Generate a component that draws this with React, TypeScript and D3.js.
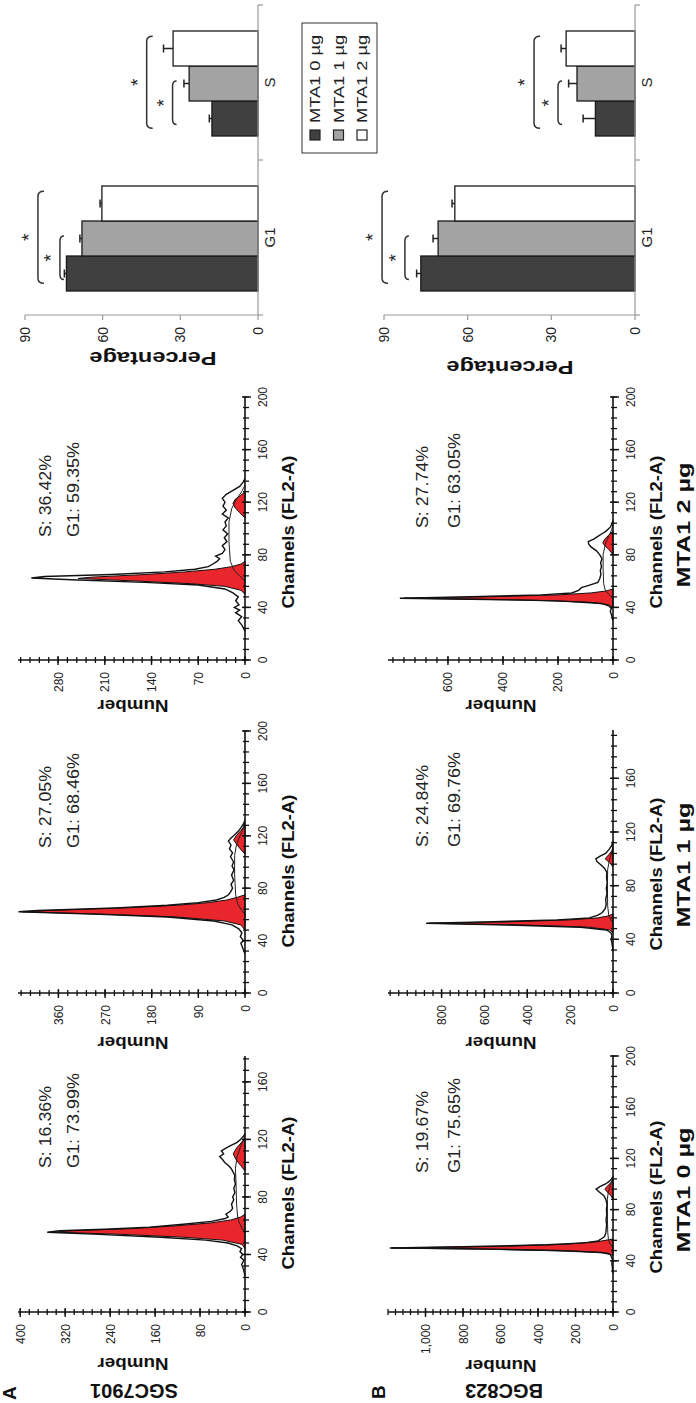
import React from 'react';
import * as d3 from 'd3';

type Pt = [number, number];

// ---------------- Histogram data: [channel, count] ----------------
// SGC7901
const sgc0Raw: Pt[] = [[25,0],[30,3],[33,6],[36,2],[38,8],[40,4],[42,9],[44,6],[46,14],[48,30],[50,70],[52,150],[54,260],[55.5,352],[56.5,330],[57.5,250],[59,170],[61,110],[63,60],[65,35],[66,30],[68,34],[70,26],[72,22],[75,24],[78,20],[80,22],[83,18],[86,20],[89,17],[92,19],[95,18],[98,22],[100,25],[102,30],[104,36],[106,40],[108,45],[110,38],[112,42],[114,34],[116,24],[118,14],[120,8],[122,3],[124,0]];
const sgc0G1: Pt[] = [[44,0],[47,5],[50,40],[52,110],[54,220],[55.5,340],[56.5,310],[58,200],[60,120],[62,60],[64,25],[66,8],[68,0]];
const sgc0G2: Pt[] = [[98,0],[102,8],[106,16],[110,21],[114,15],[118,6],[121,0]];
const sgc0S: Pt[] = [[55,0],[58,5],[62,10],[66,13],[75,15],[90,16],[100,17],[108,14],[115,8],[120,2],[123,0]];

const sgc1Raw: Pt[] = [[30,0],[34,4],[38,8],[40,3],[43,9],[46,6],[49,12],[52,25],[55,60],[58,150],[60,280],[62,437],[63,400],[65,250],[67,150],[69,90],[71,55],[73,40],[75,32],[77,28],[80,24],[83,27],[86,22],[90,26],[94,21],[97,25],[100,22],[104,28],[107,24],[110,30],[113,27],[116,32],[118,28],[120,22],[123,14],[126,8],[129,3],[132,0]];
const sgc1G1: Pt[] = [[48,0],[52,8],[55,40],[58,130],[60,260],[62,430],[63,380],[65,230],[67,130],[69,70],[71,35],[73,15],[75,0]];
const sgc1G2: Pt[] = [[106,0],[110,9],[114,17],[117,22],[120,17],[124,8],[128,0]];
const sgc1S: Pt[] = [[60,0],[64,8],[68,14],[75,18],[90,20],[105,20],[112,17],[118,12],[124,5],[130,0]];

const sgc2Raw: Pt[] = [[22,0],[26,4],[30,10],[33,5],[36,14],[38,8],[40,16],[42,9],[45,14],[48,10],[51,18],[54,30],[57,70],[59,150],[61,260],[62.4,320],[63.5,300],[65,200],[67,120],[69,75],[71,55],[73,48],[75,42],[77,38],[79,44],[81,34],[84,30],[87,34],[90,27],[93,31],[96,26],[99,33],[102,28],[105,30],[108,25],[111,34],[114,28],[117,33],[120,30],[123,34],[126,28],[129,18],[132,8],[135,3],[138,0]];
const sgc2G1: Pt[] = [[50,0],[53,6],[56,30],[58,80],[60,160],[62,250],[63,230],[65,150],[67,90],[69,45],[71,20],[73,6],[75,0]];
const sgc2G2: Pt[] = [[108,0],[112,8],[116,15],[119,18],[122,15],[125,7],[128,0]];
const sgc2S: Pt[] = [[60,0],[64,8],[68,16],[75,22],[90,24],[105,24],[115,20],[122,13],[128,5],[133,0]];

// BGC823
const bgc0Raw: Pt[] = [[30,0],[34,3],[38,6],[41,3],[43,8],[45,15],[46.5,60],[48,300],[49.3,700],[50,1190],[51,800],[52.5,350],[54,150],[55.5,80],[57,64],[59,45],[62,38],[65,36],[68,34],[72,37],[76,33],[80,35],[84,32],[88,38],[91,50],[94,75],[96,90],[98,70],[100,40],[102,20],[104,8],[106,0]];
const bgc0G1: Pt[] = [[44,0],[46,30],[47.5,200],[48.8,600],[50,1180],[51.3,600],[53,250],[55,80],[56.5,20],[57,0]];
const bgc0G2: Pt[] = [[88,0],[91,12],[94,32],[96,43],[98,32],[101,12],[104,0]];
const bgc0S: Pt[] = [[50,0],[53,15],[56,24],[62,28],[75,30],[88,30],[94,25],[99,14],[103,4],[106,0]];

const bgc1Raw: Pt[] = [[32,0],[36,4],[40,8],[43,5],[45,10],[47,30],[49,150],[50.5,450],[52,872],[53,600],[54.5,260],[56,110],[58,70],[60,50],[63,36],[66,32],[70,34],[74,28],[78,31],[82,27],[86,30],[90,29],[93,40],[96,60],[98,75],[100,80],[102,60],[104,35],[107,18],[110,6],[113,0]];
const bgc1G1: Pt[] = [[45,0],[47,15],[49,110],[50.5,380],[52,860],[53,500],[54.5,200],[56,70],[57.5,20],[59,0]];
const bgc1G2: Pt[] = [[94,0],[97,15],[100,37],[103,20],[106,5],[108,0]];
const bgc1S: Pt[] = [[52,0],[55,12],[58,20],[65,25],[80,26],[92,25],[98,18],[103,9],[108,2],[111,0]];

const bgc2Raw: Pt[] = [[30,0],[34,5],[37,10],[39,6],[41,14],[43,40],[45,200],[46,450],[47,775],[48,550],[49.5,260],[51,150],[53,125],[55,115],[57,85],[59,55],[62,48],[65,44],[68,46],[71,42],[74,45],[77,40],[80,48],[83,60],[86,80],[88,88],[90,90],[92,70],[94,55],[96,40],[98,25],[101,10],[104,3],[106,0]];
const bgc2G1: Pt[] = [[40,0],[42,15],[44,90],[45.5,300],[47,760],[48,480],[49.5,200],[51,80],[52.5,25],[54,0]];
const bgc2G2: Pt[] = [[80,0],[84,15],[87,30],[89,37],[92,30],[95,15],[98,0]];
const bgc2S: Pt[] = [[47,0],[50,15],[53,28],[58,34],[70,36],[80,36],[88,28],[94,16],[99,5],[103,0]];

// Percent annotations
const sgcSPct = ['16.36%', '27.05%', '36.42%'];
const sgcG1Pct = ['73.99%', '68.46%', '59.35%'];
const bgcSPct = ['19.67%', '24.84%', '27.74%'];
const bgcG1Pct = ['75.65%', '69.76%', '63.05%'];

// Axis ticks
const numTicksA0 = [0, 80, 160, 240, 320, 400];
const numTicksA1 = [0, 90, 180, 270, 360];
const numTicksA2 = [0, 70, 140, 210, 280];
const numTicksB0 = [0, 200, 400, 600, 800, 1000];
const numTicksB1 = [0, 200, 400, 600, 800];
const numTicksB2 = [0, 200, 400, 600];
const chanTicks200 = [0, 40, 80, 120, 160, 200];
const chanTicks160 = [0, 40, 80, 120, 160];

// ---------------- Bar chart data ----------------
const phases = ['G1', 'S'];
const doses = ['MTA1 0 µg', 'MTA1 1 µg', 'MTA1 2 µg'];
const sgcG1 = [74, 68, 60.3];
const sgcG1Err = [0.8, 0.8, 0.7];
const sgcS = [17.8, 26.6, 32.8];
const sgcSErr = [1, 2, 3.7];
const bgcG1 = [76.8, 70.6, 64.6];
const bgcG1Err = [1.5, 1.8, 1];
const bgcS = [14.2, 20.8, 24.7];
const bgcSErr = [4.4, 3, 1.8];
const pctTicks = [0, 30, 60, 90];
// significance brackets: [phase, toDoseIndex, level]
const sgcBrackets: [string, number, number][] = [['G1', 1, 76.5], ['G1', 2, 85], ['S', 1, 33], ['S', 2, 43]];
const bgcBrackets: [string, number, number][] = [['G1', 1, 82.5], ['G1', 2, 90.7], ['S', 1, 27.6], ['S', 2, 36.2]];

// ---------------- Styles ----------------
const FONT = "'Liberation Sans', Arial, Helvetica, sans-serif";
const RED = '#e8262b';
const BAR_FILLS = ['#404040', '#a3a3a3', '#ffffff'];

type HistLayout = {
  u0: number; u1: number; chMax: number; vBase: number; vTop: number; nMax: number;
  nMinor: number; textU: number; sV: number; g1V: number; chanU: number; chanV: number;
  numU: number; numV: number; doseU?: number; doseV?: number;
};

function Histogram(props: {
  L: HistLayout; raw: Pt[]; g1: Pt[]; g2: Pt[]; sfit: Pt[];
  nTicks: number[]; chTicks: number[]; sPct: string; g1Pct: string; dose?: string;
}) {
  const { L, raw, g1, g2, sfit, nTicks, chTicks, sPct, g1Pct, dose } = props;
  const x = d3.scaleLinear().domain([0, L.chMax]).range([L.u0, L.u1]);
  const y = d3.scaleLinear().domain([0, L.nMax]).range([L.vBase, L.vTop]);
  const area = d3.area<Pt>().x(d => x(d[0])).y0(y(0)).y1(d => y(d[1]));
  const line = d3.line<Pt>().x(d => x(d[0])).y(d => y(d[1]));
  const nMinor = d3.range(0, L.nMax + 0.001, L.nMinor);
  const chMinor = d3.range(0, L.chMax + 0.001, 8);
  const fmt = d3.format(',');
  return (
    <g>
      <path d={area(raw) || ''} fill="#fff" stroke="none" />
      <path d={area(g1) || ''} fill={RED} stroke="#111" strokeWidth={1} />
      <path d={area(g2) || ''} fill={RED} stroke="#111" strokeWidth={1} />
      <path d={line(sfit) || ''} fill="none" stroke="#222" strokeWidth={1} />
      <path d={line(raw) || ''} fill="none" stroke="#111" strokeWidth={1.4} />
      {/* axes */}
      <line x1={L.u0} x2={L.u0} y1={L.vBase} y2={L.vTop} stroke="#111" strokeWidth={1.6} />
      <line x1={L.u0} x2={L.u1} y1={L.vBase} y2={L.vBase} stroke="#111" strokeWidth={1.6} />
      {nMinor.map((t, i) => (
        <line key={'nm' + i} x1={L.u0 - 3} x2={L.u0 + 3} y1={y(t)} y2={y(t)} stroke="#111" strokeWidth={1.3} />
      ))}
      {nTicks.map((t, i) => (
        <g key={'nt' + i}>
          <line x1={L.u0 - 5} x2={L.u0 + 4} y1={y(t)} y2={y(t)} stroke="#111" strokeWidth={1.4} />
          <text x={L.u0 - 12} y={y(t) + 4.5} textAnchor="end" fontSize={12} fontFamily={FONT} fill="#222">{fmt(t)}</text>
        </g>
      ))}
      {chMinor.map((t, i) => (
        <line key={'cm' + i} x1={x(t)} x2={x(t)} y1={L.vBase - 2} y2={L.vBase + 4} stroke="#111" strokeWidth={1.3} />
      ))}
      {chTicks.map((t, i) => (
        <g key={'ct' + i}>
          <line x1={x(t)} x2={x(t)} y1={L.vBase - 3} y2={L.vBase + 6} stroke="#111" strokeWidth={1.4} />
          <text x={x(t)} y={L.vBase + 22} textAnchor="middle" fontSize={12} fontFamily={FONT} fill="#222">{t}</text>
        </g>
      ))}
      <text x={L.textU} y={L.sV} fontSize={17} fontFamily={FONT} fill="#222" textLength={82} lengthAdjust="spacingAndGlyphs">{'S: ' + sPct}</text>
      <text x={L.textU} y={L.g1V} fontSize={17} fontFamily={FONT} fill="#222" textLength={95} lengthAdjust="spacingAndGlyphs">{'G1: ' + g1Pct}</text>
      <text x={L.chanU} y={L.chanV} textAnchor="middle" fontSize={16} fontWeight="bold" fontFamily={FONT} fill="#111" textLength={153} lengthAdjust="spacingAndGlyphs">Channels (FL2-A)</text>
      <text transform={`translate(${L.numU},${L.numV}) rotate(-90)`} textAnchor="middle" fontSize={16} fontWeight="bold" fontFamily={FONT} fill="#111" textLength={71} lengthAdjust="spacingAndGlyphs">Number</text>
      {dose && L.doseU !== undefined ? (
        <text x={L.doseU} y={L.doseV} textAnchor="middle" fontSize={18} fontWeight="bold" fontFamily={FONT} fill="#111" textLength={125} lengthAdjust="spacingAndGlyphs">{dose}</text>
      ) : null}
    </g>
  );
}

type BarLayout = { vZero: number; vTop: number; pctU: number; pctV: number };

function BarChart(props: {
  L: BarLayout; g1: number[]; g1Err: number[]; s: number[]; sErr: number[]; brackets: [string, number, number][];
}) {
  const { L, g1, g1Err, s, sErr, brackets } = props;
  const uStart = 1088, uEnd = 1398;
  const xb = d3.scaleBand<string>().domain(phases).range([uStart, uEnd]);
  const xs = d3.scaleBand<string>().domain(doses).range([24, 129]);
  const y = d3.scaleLinear().domain([0, 90]).range([L.vZero, L.vTop]);
  const vals: Record<string, number[]> = { G1: g1, S: s };
  const errs: Record<string, number[]> = { G1: g1Err, S: sErr };
  const bw = xs.bandwidth();
  return (
    <g>
      <line x1={uStart} x2={uStart} y1={L.vZero} y2={L.vTop} stroke="#999" strokeWidth={1.2} />
      {pctTicks.map((t, i) => (
        <g key={'pt' + i}>
          <line x1={uStart - 5} x2={uStart} y1={y(t)} y2={y(t)} stroke="#999" strokeWidth={1.2} />
          <text x={1076} y={y(t) + 5} textAnchor="end" fontSize={14} fontFamily={FONT} fill="#222">{t}</text>
        </g>
      ))}
      <text transform={`translate(${L.pctU},${L.pctV}) rotate(-90)`} textAnchor="middle" fontSize={19} fontWeight="bold" fontFamily={FONT} fill="#111" textLength={127} lengthAdjust="spacingAndGlyphs">Percentage</text>
      {phases.map(p => (
        <g key={p}>
          {doses.map((d, j) => {
            const u = (xb(p) as number) + (xs(d) as number);
            const v = vals[p][j];
            const e = errs[p][j];
            const cu = u + bw / 2;
            return (
              <g key={d}>
                <line x1={cu} x2={cu} y1={y(v)} y2={y(v + e)} stroke="#222" strokeWidth={1.5} />
                <line x1={cu - 4} x2={cu + 4} y1={y(v + e)} y2={y(v + e)} stroke="#222" strokeWidth={1.5} />
                <rect x={u} y={y(v)} width={bw} height={y(0) - y(v)} fill={BAR_FILLS[j]} stroke="#1a1a1a" strokeWidth={1.3} />
              </g>
            );
          })}
          <text x={(xb(p) as number) + xb.bandwidth() / 2} y={L.vZero + 17} textAnchor="middle" fontSize={15} fontFamily={FONT} fill="#222">{p}</text>
        </g>
      ))}
      <line x1={uStart} x2={uEnd} y1={L.vZero} y2={L.vZero} stroke="#999" strokeWidth={1.2} />
      {[uStart, uStart + xb.bandwidth(), uEnd].map((u, i) => (
        <line key={'cb' + i} x1={u} x2={u} y1={L.vZero} y2={L.vZero + 5} stroke="#999" strokeWidth={1.2} />
      ))}
      {brackets.map(([p, to, level], i) => {
        const base = (xb(p) as number) + (xs(doses[0]) as number);
        const small = to === 1;
        const u1 = base + bw * (small ? 0.33 : 0.22);
        const u2 = base + bw * (small ? 1.57 : 2.85);
        const v = y(level);
        const h = small ? 4 : 6;
        const d = `M${u1},${v + h} Q${u1},${v} ${u1 + 5},${v} L${u2 - 5},${v} Q${u2},${v} ${u2},${v + h}`;
        return (
          <g key={'br' + i}>
            <path d={d} fill="none" stroke="#333" strokeWidth={1.5} />
            <text x={(u1 + u2) / 2} y={v - 3} textAnchor="middle" fontSize={19} fontFamily={FONT} fill="#222">*</text>
          </g>
        );
      })}
    </g>
  );
}

function Legend() {
  const u0 = 1250, u1 = 1380, v0 = 302, v1 = 377;
  const rows = d3.scaleLinear().domain([0, 2]).range([315, 362]);
  return (
    <g>
      <rect x={u0} y={v0} width={u1 - u0} height={v1 - v0} fill="#fff" stroke="#333" strokeWidth={1} />
      {doses.map((d, i) => (
        <g key={d}>
          <rect x={1263} y={rows(i) - 5} width={10} height={10} fill={BAR_FILLS[i]} stroke="#222" strokeWidth={1.2} />
          <text x={1280} y={rows(i) + 5} fontSize={14} fontFamily={FONT} fill="#222" textLength={88} lengthAdjust="spacingAndGlyphs">{d}</text>
        </g>
      ))}
    </g>
  );
}

export default function App() {
  const lay: HistLayout[] = [
    { u0: 91, u1: 347, chMax: 178, vBase: 245, vTop: 18, nMax: 404, nMinor: 16, textU: 235, sV: 51, g1V: 79, chanU: 210, chanV: 294, numU: 45, numV: 133 },
    { u0: 410, u1: 672, chMax: 200, vBase: 245, vTop: 18, nMax: 438, nMinor: 18, textU: 555, sV: 51, g1V: 79, chanU: 532, chanV: 294, numU: 366, numV: 133 },
    { u0: 743, u1: 1006, chMax: 200, vBase: 245, vTop: 18, nMax: 340, nMinor: 14, textU: 866, sV: 51, g1V: 79, chanU: 871, chanV: 294, numU: 703, numV: 133 },
    { u0: 91, u1: 347, chMax: 200, vBase: 613, vTop: 388, nMax: 1200, nMinor: 40, textU: 230, sV: 428, g1V: 460, chanU: 206, chanV: 662, numU: 43, numV: 501, doseU: 213, doseV: 690 },
    { u0: 410, u1: 673, chMax: 196, vBase: 613, vTop: 388, nMax: 1050, nMinor: 40, textU: 556, sV: 428, g1V: 460, chanU: 529, chanV: 662, numU: 366, numV: 501, doseU: 538, doseV: 690 },
    { u0: 743, u1: 1006, chMax: 200, vBase: 613, vTop: 388, nMax: 818, nMinor: 40, textU: 875, sV: 428, g1V: 460, chanU: 871, chanV: 662, numU: 703, numV: 501, doseU: 878, doseV: 690 },
  ];
  return (
    <svg width={696} height={1403} style={{ position: 'absolute', left: 0, top: 0, background: '#fff' }}>
      <rect x={0} y={0} width={696} height={1403} fill="#fff" />
      <g transform="translate(0,1403) rotate(-90)">
        <text x={3} y={16} fontSize={19} fontWeight="bold" fontFamily={FONT} fill="#111">A</text>
        <text x={4} y={385} fontSize={19} fontWeight="bold" fontFamily={FONT} fill="#111">B</text>
        <text transform="translate(19,134) rotate(-90)" textAnchor="middle" fontSize={20} fontWeight="bold" fontFamily={FONT} fill="#111">SGC7901</text>
        <text transform="translate(19,504) rotate(-90)" textAnchor="middle" fontSize={20} fontWeight="bold" fontFamily={FONT} fill="#111">BGC823</text>

        <Histogram L={lay[0]} raw={sgc0Raw} g1={sgc0G1} g2={sgc0G2} sfit={sgc0S} nTicks={numTicksA0} chTicks={chanTicks160} sPct={sgcSPct[0]} g1Pct={sgcG1Pct[0]} />
        <Histogram L={lay[1]} raw={sgc1Raw} g1={sgc1G1} g2={sgc1G2} sfit={sgc1S} nTicks={numTicksA1} chTicks={chanTicks200} sPct={sgcSPct[1]} g1Pct={sgcG1Pct[1]} />
        <Histogram L={lay[2]} raw={sgc2Raw} g1={sgc2G1} g2={sgc2G2} sfit={sgc2S} nTicks={numTicksA2} chTicks={chanTicks200} sPct={sgcSPct[2]} g1Pct={sgcG1Pct[2]} />
        <Histogram L={lay[3]} raw={bgc0Raw} g1={bgc0G1} g2={bgc0G2} sfit={bgc0S} nTicks={numTicksB0} chTicks={chanTicks200} sPct={bgcSPct[0]} g1Pct={bgcG1Pct[0]} dose={doses[0]} />
        <Histogram L={lay[4]} raw={bgc1Raw} g1={bgc1G1} g2={bgc1G2} sfit={bgc1S} nTicks={numTicksB1} chTicks={chanTicks160} sPct={bgcSPct[1]} g1Pct={bgcG1Pct[1]} dose={doses[1]} />
        <Histogram L={lay[5]} raw={bgc2Raw} g1={bgc2G1} g2={bgc2G2} sfit={bgc2S} nTicks={numTicksB2} chTicks={chanTicks200} sPct={bgcSPct[2]} g1Pct={bgcG1Pct[2]} dose={doses[2]} />

        <BarChart L={{ vZero: 258, vTop: 25, pctU: 1051, pctV: 153 }} g1={sgcG1} g1Err={sgcG1Err} s={sgcS} sErr={sgcSErr} brackets={sgcBrackets} />
        <BarChart L={{ vZero: 635, vTop: 384, pctU: 1042, pctV: 510 }} g1={bgcG1} g1Err={bgcG1Err} s={bgcS} sErr={bgcSErr} brackets={bgcBrackets} />
        <Legend />
      </g>
    </svg>
  );
}
